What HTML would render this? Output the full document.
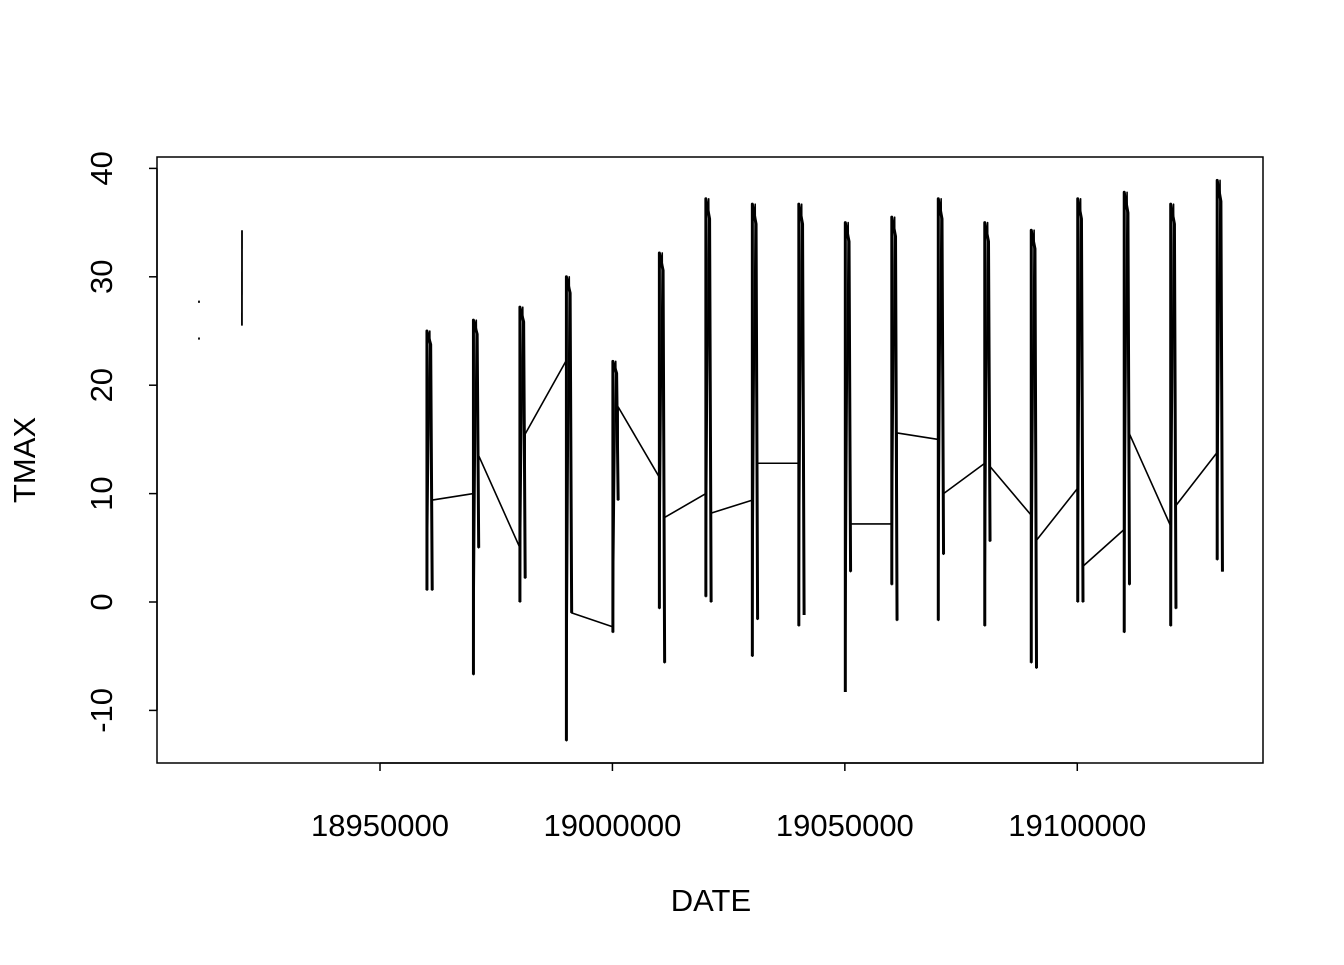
<!DOCTYPE html>
<html><head><meta charset="utf-8"><style>
body{margin:0;background:#fff}
svg text{font-family:"Liberation Sans",sans-serif;font-size:31px;fill:#000}
</style></head><body>
<svg id="c" width="1344" height="960">
<rect x="157" y="157" width="1106" height="606" fill="none" stroke="#000" stroke-width="1.5"/>
<g id="plot"></g>
<g id="axes"></g>
<text x="711" y="911" text-anchor="middle">DATE</text>
<text transform="translate(35,460) rotate(-90)" text-anchor="middle">TMAX</text>
</svg>
<script>
const xTicks=[18950000,19000000,19050000,19100000];
const yTicks=[-10,0,10,20,30,40];
const years=[1896,1897,1898,1899,1900,1901,1902,1903,1904,1905,1906,1907,1908,1909,1910,1911,1912,1913];
const startVals=[25,10,5,22.3,-2.3,11.5,10,9.4,12.8,null,7.2,15,12.8,8,10.5,6.7,7,13.8];
const minVals=[1.1,-6.7,0,-12.8,-2.8,-0.6,0.5,-5,-2.2,-8.3,1.6,-1.7,-2.2,-5.6,0,-2.8,-2.2,3.9];
const maxVals=[25,26,27.2,30,22.2,32.2,37.2,36.7,36.7,35,35.5,37.2,35,34.3,37.2,37.8,36.7,38.9];
const secVals=[1.1,5,2.2,-1,9.4,-5.6,0,-1.6,-1.2,2.8,-1.7,4.4,5.6,-6.1,0,1.6,-0.6,2.8];
const endVals=[9.4,13.5,15.5,-1,18,7.8,8.2,12.8,null,7.2,15.6,10,12.5,5.7,3.3,15.5,8.9,null];
const fragDates=[[18911060,18911062],[18911060,18911062],[18920301,18920315]];
const fragVals=[[24.2,24.4],[27.6,27.8],[25.5,34.3]];
const NS="http://www.w3.org/2000/svg";
const X=d=>380+(d-18950000)*0.0046485;
const Y=v=>602-v*10.84;
const plot=document.getElementById('plot'),axes=document.getElementById('axes');
function line(pts,w,name){
  const p=document.createElementNS(NS,'polyline');
  p.setAttribute('points',pts.map(q=>X(q[0]).toFixed(2)+','+Y(q[1]).toFixed(2)).join(' '));
  p.setAttribute('fill','none');p.setAttribute('stroke','#000');p.setAttribute('stroke-width',w);
  p.setAttribute('stroke-linejoin','round');
  
  
  plot.appendChild(p);
}
fragDates.forEach((d,i)=>line([[d[0],fragVals[i][0]],[d[1],fragVals[i][1]]],1.8,'early-fragment'));
let cur=[];
years.forEach((yr,i)=>{
  const b=yr*10000;
  if(startVals[i]!==null) cur.push([b+101,startVals[i]]);
  else { if(cur.length>1) line(cur,1.6,'series-segment'); cur=[]; }
  line([[b+101,minVals[i]],[b+101,maxVals[i]],[b+900,maxVals[i]*0.95],[b+1231,secVals[i]]],3,'year-cluster');
  cur.push([b+120,minVals[i]],[b+715,maxVals[i]],[b+1215,secVals[i]]);
  if(endVals[i]!==null) cur.push([b+1231,endVals[i]]);
  else { if(cur.length>1) line(cur,1.6,'series-segment'); cur=[]; }
});
if(cur.length>1) line(cur,1.6,'series-segment');
function el(tag,attrs,parent){const e=document.createElementNS(NS,tag);for(const k in attrs)e.setAttribute(k,attrs[k]);parent.appendChild(e);return e;}
const xa=el('line',{x1:X(xTicks[0]),x2:X(xTicks[xTicks.length-1]),y1:763,y2:763,stroke:'#000','stroke-width':1.5},axes);


xTicks.forEach(t=>{
  const tk=el('line',{x1:X(t),x2:X(t),y1:763,y2:771,stroke:'#000','stroke-width':1.5},axes);
  
  
  const tx=el('text',{x:X(t),y:836,'text-anchor':'middle'},axes);tx.textContent=t;
  
  
});
const ya=el('line',{x1:157,x2:157,y1:Y(yTicks[0]),y2:Y(yTicks[yTicks.length-1]),stroke:'#000','stroke-width':1.5},axes);


yTicks.forEach(t=>{
  const tk=el('line',{x1:149,x2:157,y1:Y(t),y2:Y(t),stroke:'#000','stroke-width':1.5},axes);
  
  
  const tx=el('text',{transform:`translate(112,${Y(t)}) rotate(-90)`,'text-anchor':'middle'},axes);tx.textContent=t;
  
  
});
</script>
</body></html>
